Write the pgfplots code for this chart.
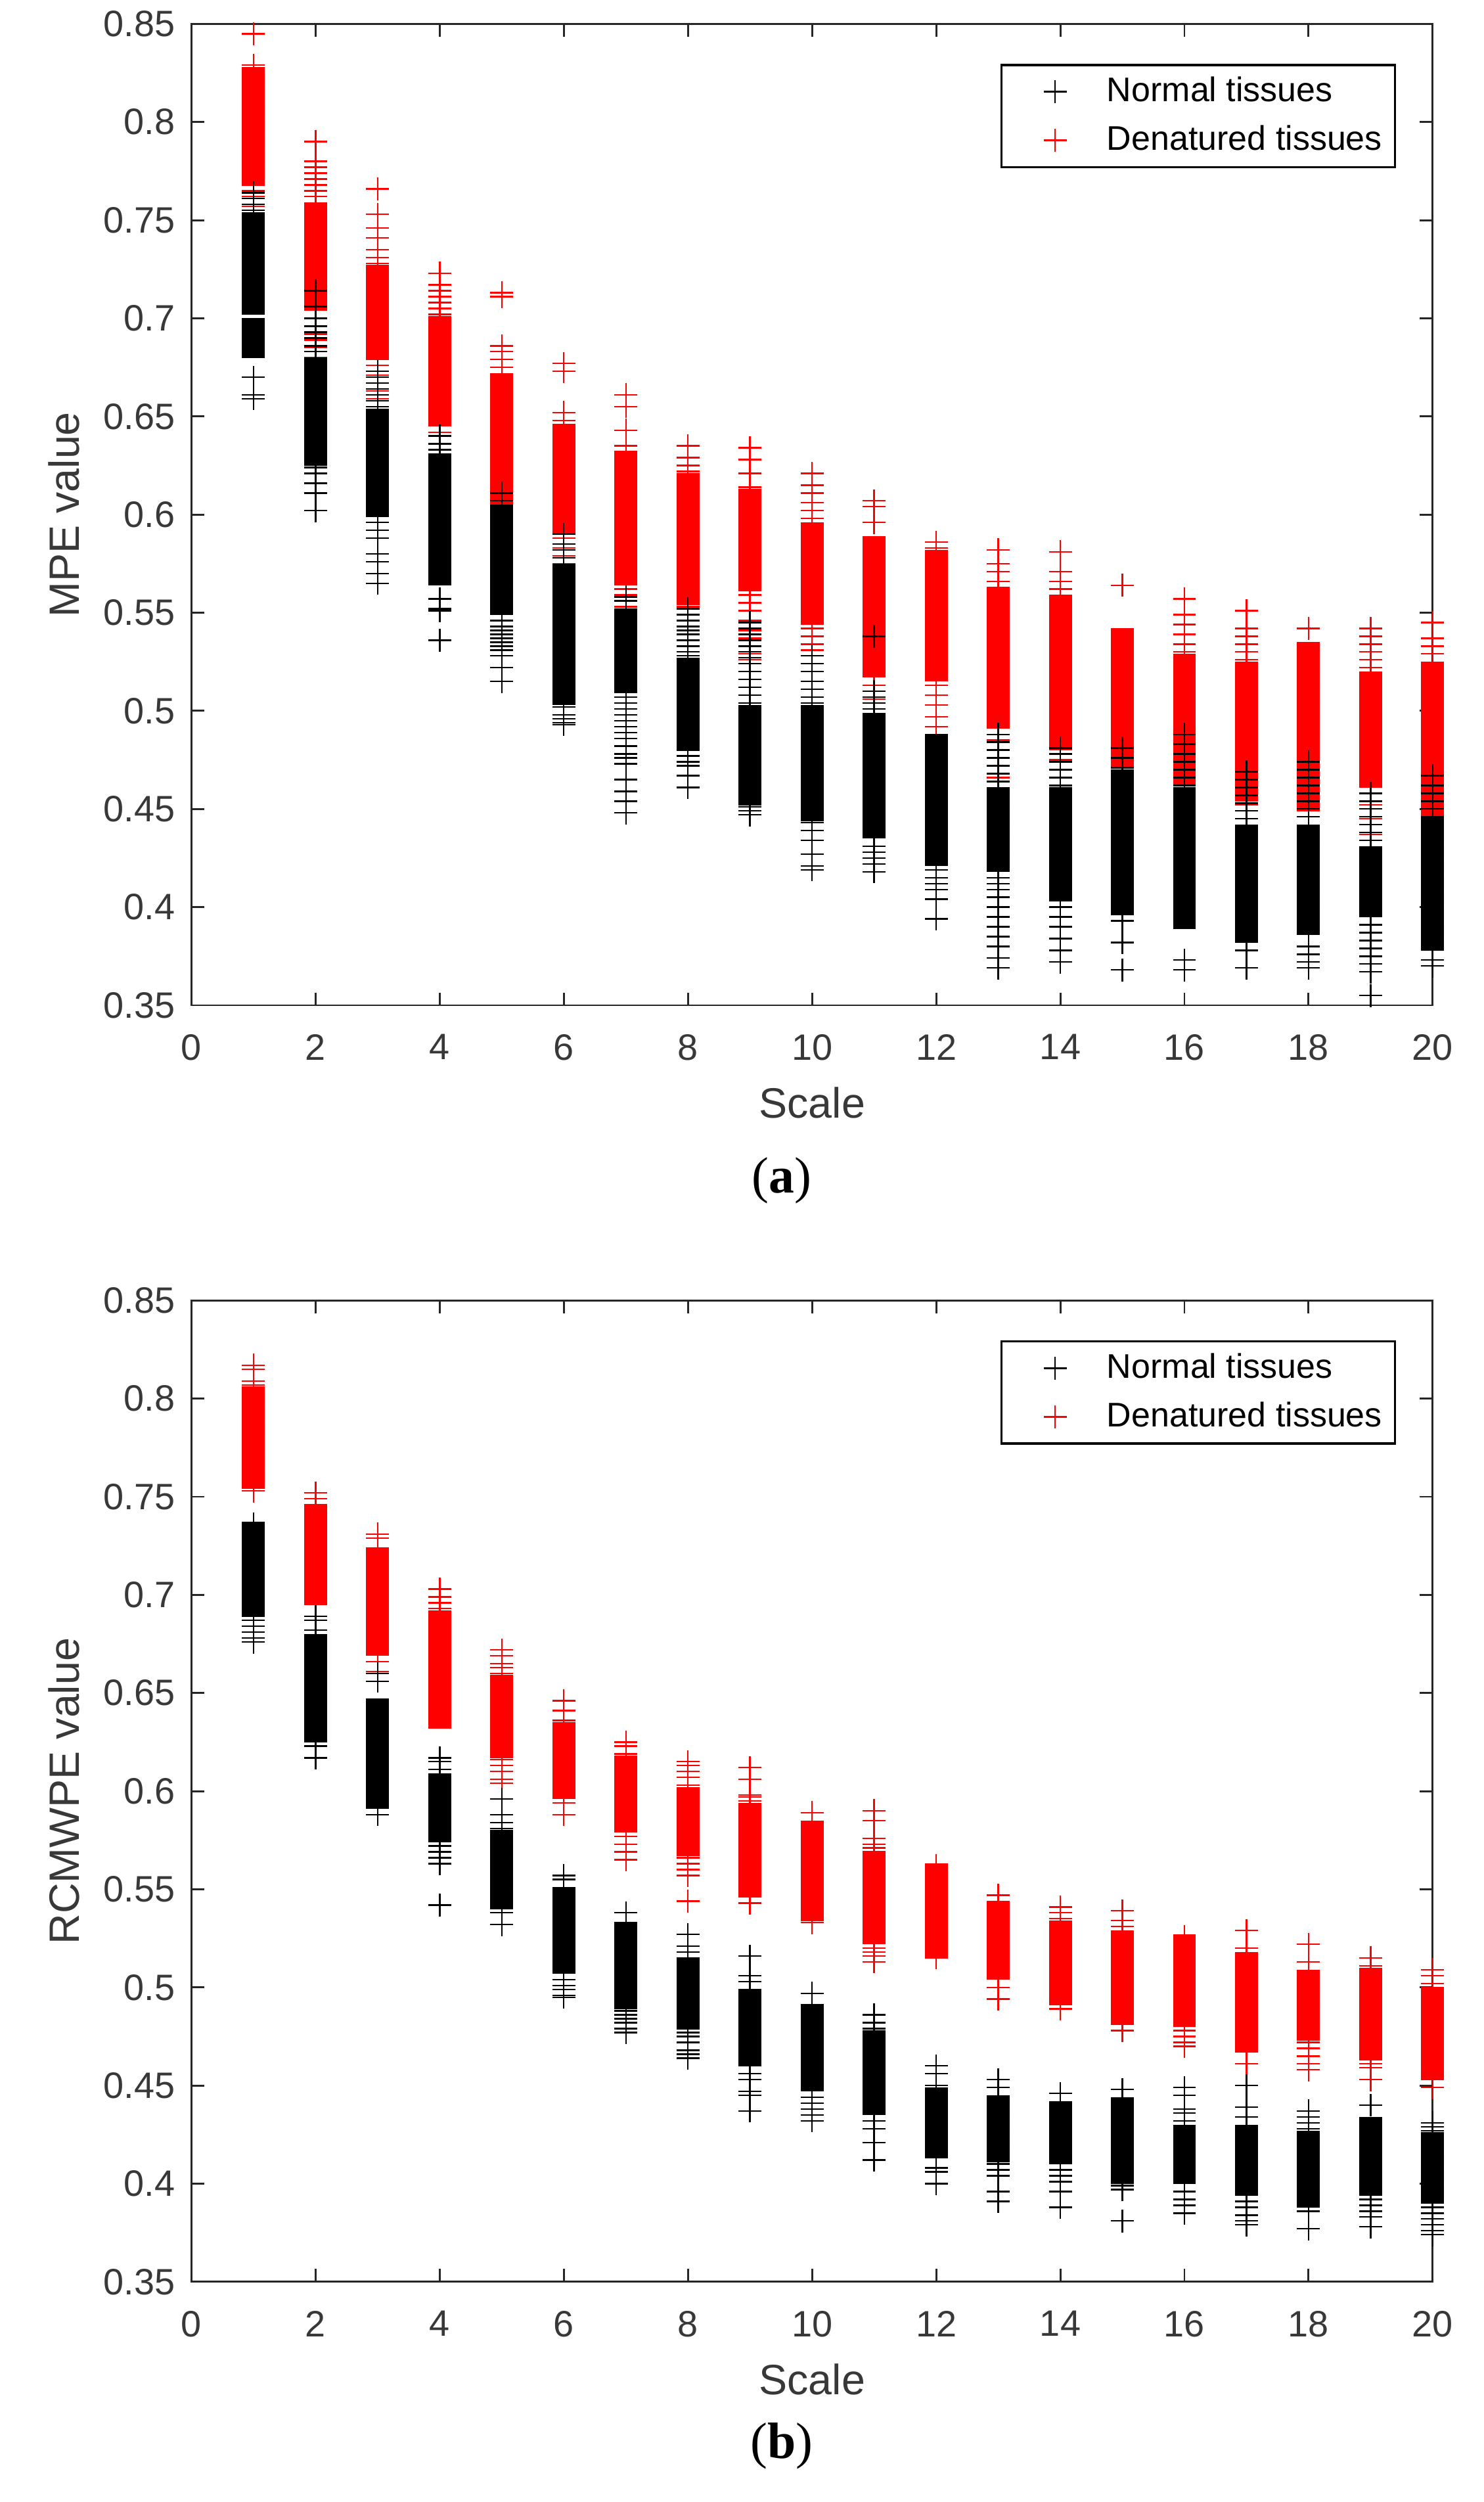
\documentclass[border=0pt]{standalone}
\usepackage{fontspec}
\setmainfont{Liberation Sans}
\newfontfamily\seriffont{Liberation Serif}
\usepackage{pgfplots}
\pgfplotsset{compat=1.18}
\definecolor{axcol}{gray}{0.15}
\definecolor{tkcol}{gray}{0.22}
\pgfplotsset{
  denS/.style={only marks, mark=+, color=red, mark size=3.6pt, mark options={line width=0.5pt}},
  nrmS/.style={only marks, mark=+, color=black, mark size=3.6pt, mark options={line width=0.5pt}},
  denB/.style={only marks, mark=-, color=red, mark size=3.6pt, mark options={line width=2.6pt}, forget plot},
  nrmB/.style={only marks, mark=-, color=black, mark size=3.6pt, mark options={line width=2.6pt}, forget plot},
  base/.style={
    scale only axis, width=389pt, height=307.5pt,
    xmin=0, xmax=20, ymin=0.35, ymax=0.85,
    xtick={0,2,4,6,8,10,12,14,16,18,20},
    ytick={0.35,0.4,0.45,0.5,0.55,0.6,0.65,0.7,0.75,0.8,0.85},
    yticklabels={0.35,0.4,0.45,0.5,0.55,0.6,0.65,0.7,0.75,0.8,0.85},
    tick align=inside, major tick length=4pt,
    axis line style={draw=axcol, line width=0.6pt},
    every tick/.style={draw=axcol, line width=0.6pt},
    /pgf/number format/assume math mode=true,
    tick label style={font=\fontsize{11.5}{13}\selectfont, text=tkcol, inner sep=0pt},
    xticklabel shift=8.9pt, yticklabel shift=5pt,
    label style={font=\fontsize{13.3}{15}\selectfont, text=tkcol},
    xlabel={Scale},
    xlabel style={at={(axis description cs:0.5,-0.0992)}, anchor=center},
    ylabel style={at={(axis description cs:-0.1028,0.5)}, anchor=center},
    clip=false,
    legend cell align=left,
    legend style={at={(rel axis cs:1,1)}, anchor=north east, xshift=-11.5pt, yshift=-12.5pt,
      draw=black, line width=0.7pt, font=\fontsize{10.7}{12}\selectfont,
      inner xsep=13.15pt, inner ysep=3.75pt, row sep=6pt, column sep=12.65pt, nodes={inner sep=0pt}},
  }
}
\begin{document}
\begin{tikzpicture}
\path[use as bounding box] (0,0) rectangle (465pt,784pt);
% ---------------- (a) MPE ----------------
\begin{axis}[base, at={(60pt,469pt)}, anchor=south west, ylabel={MPE value}]
\addlegendimage{nrmS}\addlegendentry{Normal tissues}
\addlegendimage{denS}\addlegendentry{Denatured tissues\hspace*{-9.15pt}}
\addplot[denB] coordinates {
(1,0.826)(1,0.822)(1,0.818)(1,0.814)(1,0.810)(1,0.806)(1,0.802)(1,0.798)(1,0.794)(1,0.790)(1,0.786)(1,0.782)(1,0.778)(1,0.774)(1,0.770)
(2,0.757)(2,0.753)(2,0.749)(2,0.745)(2,0.741)(2,0.737)(2,0.733)(2,0.729)(2,0.725)(2,0.721)(2,0.717)(2,0.713)(2,0.709)(2,0.706)
(3,0.725)(3,0.721)(3,0.717)(3,0.713)(3,0.709)(3,0.705)(3,0.701)(3,0.697)(3,0.693)(3,0.689)(3,0.685)(3,0.681)
(4,0.699)(4,0.695)(4,0.691)(4,0.687)(4,0.683)(4,0.679)(4,0.675)(4,0.671)(4,0.667)(4,0.663)(4,0.659)(4,0.655)(4,0.651)(4,0.647)
(5,0.670)(5,0.666)(5,0.662)(5,0.658)(5,0.654)(5,0.650)(5,0.646)(5,0.642)(5,0.638)(5,0.634)(5,0.630)(5,0.626)(5,0.622)(5,0.618)(5,0.614)(5,0.610)(5,0.606)
(6,0.644)(6,0.640)(6,0.636)(6,0.632)(6,0.628)(6,0.624)(6,0.620)(6,0.616)(6,0.612)(6,0.608)(6,0.604)(6,0.600)(6,0.596)(6,0.592)
(7,0.630)(7,0.626)(7,0.622)(7,0.618)(7,0.614)(7,0.610)(7,0.606)(7,0.602)(7,0.598)(7,0.594)(7,0.590)(7,0.586)(7,0.582)(7,0.578)(7,0.574)(7,0.570)(7,0.566)
(8,0.619)(8,0.615)(8,0.611)(8,0.607)(8,0.603)(8,0.599)(8,0.595)(8,0.591)(8,0.587)(8,0.583)(8,0.579)(8,0.575)(8,0.571)(8,0.567)(8,0.563)(8,0.559)(8,0.556)
(9,0.611)(9,0.607)(9,0.603)(9,0.599)(9,0.595)(9,0.591)(9,0.587)(9,0.583)(9,0.579)(9,0.575)(9,0.571)(9,0.567)(9,0.563)
(10,0.594)(10,0.590)(10,0.586)(10,0.582)(10,0.578)(10,0.574)(10,0.570)(10,0.566)(10,0.562)(10,0.558)(10,0.554)(10,0.550)(10,0.546)
(11,0.587)(11,0.583)(11,0.579)(11,0.575)(11,0.571)(11,0.567)(11,0.563)(11,0.559)(11,0.555)(11,0.551)(11,0.547)(11,0.543)(11,0.539)(11,0.535)(11,0.531)(11,0.527)(11,0.523)(11,0.519)
(12,0.580)(12,0.576)(12,0.572)(12,0.568)(12,0.564)(12,0.560)(12,0.556)(12,0.552)(12,0.548)(12,0.544)(12,0.540)(12,0.536)(12,0.532)(12,0.528)(12,0.524)(12,0.520)(12,0.517)
(13,0.561)(13,0.557)(13,0.553)(13,0.549)(13,0.545)(13,0.541)(13,0.537)(13,0.533)(13,0.529)(13,0.525)(13,0.521)(13,0.517)(13,0.513)(13,0.509)(13,0.505)(13,0.501)(13,0.497)(13,0.493)
(14,0.557)(14,0.553)(14,0.549)(14,0.545)(14,0.541)(14,0.537)(14,0.533)(14,0.529)(14,0.525)(14,0.521)(14,0.517)(14,0.513)(14,0.509)(14,0.505)(14,0.501)(14,0.497)(14,0.493)(14,0.489)(14,0.485)(14,0.482)
(15,0.540)(15,0.536)(15,0.532)(15,0.528)(15,0.524)(15,0.520)(15,0.516)(15,0.512)(15,0.508)(15,0.504)(15,0.500)(15,0.496)(15,0.492)(15,0.488)(15,0.484)(15,0.480)(15,0.476)(15,0.473)
(16,0.527)(16,0.523)(16,0.519)(16,0.515)(16,0.511)(16,0.507)(16,0.503)(16,0.499)(16,0.495)(16,0.491)(16,0.487)(16,0.483)(16,0.479)(16,0.475)(16,0.471)(16,0.467)(16,0.464)
(17,0.523)(17,0.519)(17,0.515)(17,0.511)(17,0.507)(17,0.503)(17,0.499)(17,0.495)(17,0.491)(17,0.487)(17,0.483)(17,0.479)(17,0.475)(17,0.471)(17,0.467)(17,0.463)(17,0.459)(17,0.456)
(18,0.533)(18,0.529)(18,0.525)(18,0.521)(18,0.517)(18,0.513)(18,0.509)(18,0.505)(18,0.501)(18,0.497)(18,0.493)(18,0.489)(18,0.485)(18,0.481)(18,0.477)(18,0.473)(18,0.469)(18,0.465)(18,0.461)(18,0.457)(18,0.453)(18,0.451)
(19,0.518)(19,0.514)(19,0.510)(19,0.506)(19,0.502)(19,0.498)(19,0.494)(19,0.490)(19,0.486)(19,0.482)(19,0.478)(19,0.474)(19,0.470)(19,0.466)(19,0.463)
(20,0.523)(20,0.519)(20,0.515)(20,0.511)(20,0.507)(20,0.503)(20,0.499)(20,0.495)(20,0.491)(20,0.487)(20,0.483)(20,0.479)(20,0.475)(20,0.471)(20,0.467)(20,0.463)(20,0.459)(20,0.455)(20,0.451)(20,0.447)(20,0.443)
};
\addplot[denS, forget plot] coordinates {
(1,0.845)(1,0.829)(1,0.768)(1,0.765)(1,0.762)(1,0.757)(1,0.752)(1,0.746)(1,0.740)(1,0.733)
(2,0.790)(2,0.780)(2,0.777)(2,0.774)(2,0.771)(2,0.768)(2,0.765)(2,0.762)(2,0.692)(2,0.689)(2,0.685)(2,0.680)(2,0.676)
(3,0.766)(3,0.753)(3,0.746)(3,0.741)(3,0.735)(3,0.731)(3,0.728)(3,0.676)(3,0.671)(3,0.667)(3,0.663)(3,0.659)(3,0.655)
(4,0.723)(4,0.717)(4,0.714)(4,0.711)(4,0.708)(4,0.705)(4,0.702)(4,0.642)
(5,0.713)(5,0.711)(5,0.686)(5,0.683)(5,0.679)(5,0.675)(5,0.587)
(6,0.677)(6,0.673)(6,0.652)(6,0.648)(6,0.588)(6,0.583)(6,0.579)(6,0.575)(6,0.570)
(7,0.661)(7,0.655)(7,0.643)(7,0.635)(7,0.632)(7,0.562)(7,0.559)(7,0.556)(7,0.553)
(8,0.635)(8,0.629)(8,0.625)(8,0.622)(8,0.553)(8,0.549)
(9,0.634)(9,0.628)(9,0.621)(9,0.614)(9,0.559)(9,0.555)(9,0.551)(9,0.546)(9,0.541)(9,0.537)(9,0.533)(9,0.529)(9,0.526)
(10,0.621)(10,0.615)(10,0.611)(10,0.606)(10,0.602)(10,0.598)(10,0.542)(10,0.538)(10,0.534)(10,0.531)
(11,0.607)(11,0.604)(11,0.596)(11,0.513)(11,0.510)(11,0.506)
(12,0.586)(12,0.583)(12,0.513)(12,0.508)(12,0.503)(12,0.497)(12,0.492)(12,0.488)
(13,0.582)(13,0.575)(13,0.571)(13,0.566)(13,0.485)(13,0.466)
(14,0.581)(14,0.571)(14,0.566)(14,0.562)(14,0.475)(14,0.470)
(15,0.564)(15,0.468)(15,0.463)
(16,0.557)(16,0.549)(16,0.544)(16,0.539)(16,0.534)(16,0.530)
(17,0.551)(17,0.542)(17,0.538)(17,0.534)(17,0.530)(17,0.526)(17,0.452)
(18,0.542)
(19,0.542)(19,0.538)(19,0.534)(19,0.530)(19,0.526)(19,0.522)(19,0.458)(19,0.452)(19,0.445)(19,0.437)
(20,0.545)(20,0.537)(20,0.533)(20,0.529)(20,0.436)(20,0.430)
};
\addplot[nrmB] coordinates {
(1,0.752)(1,0.748)(1,0.744)(1,0.740)(1,0.736)(1,0.732)(1,0.728)(1,0.724)(1,0.720)(1,0.716)(1,0.712)(1,0.708)(1,0.704)(1,0.698)(1,0.694)(1,0.690)(1,0.686)(1,0.682)
(2,0.678)(2,0.674)(2,0.670)(2,0.666)(2,0.662)(2,0.658)(2,0.654)(2,0.650)(2,0.646)(2,0.642)(2,0.638)(2,0.634)(2,0.630)(2,0.627)
(3,0.652)(3,0.648)(3,0.644)(3,0.640)(3,0.636)(3,0.632)(3,0.628)(3,0.624)(3,0.620)(3,0.616)(3,0.612)(3,0.608)(3,0.604)(3,0.601)
(4,0.629)(4,0.625)(4,0.621)(4,0.617)(4,0.613)(4,0.609)(4,0.605)(4,0.601)(4,0.597)(4,0.593)(4,0.589)(4,0.585)(4,0.581)(4,0.577)(4,0.573)(4,0.569)(4,0.566)
(5,0.603)(5,0.599)(5,0.595)(5,0.591)(5,0.587)(5,0.583)(5,0.579)(5,0.575)(5,0.571)(5,0.567)(5,0.563)(5,0.559)(5,0.555)(5,0.551)
(6,0.573)(6,0.569)(6,0.565)(6,0.561)(6,0.557)(6,0.553)(6,0.549)(6,0.545)(6,0.541)(6,0.537)(6,0.533)(6,0.529)(6,0.525)(6,0.521)(6,0.517)(6,0.513)(6,0.509)(6,0.505)
(7,0.550)(7,0.546)(7,0.542)(7,0.538)(7,0.534)(7,0.530)(7,0.526)(7,0.522)(7,0.518)(7,0.514)(7,0.511)
(8,0.525)(8,0.521)(8,0.517)(8,0.513)(8,0.509)(8,0.505)(8,0.501)(8,0.497)(8,0.493)(8,0.489)(8,0.485)(8,0.482)
(9,0.501)(9,0.497)(9,0.493)(9,0.489)(9,0.485)(9,0.481)(9,0.477)(9,0.473)(9,0.469)(9,0.465)(9,0.461)(9,0.457)(9,0.454)
(10,0.501)(10,0.497)(10,0.493)(10,0.489)(10,0.485)(10,0.481)(10,0.477)(10,0.473)(10,0.469)(10,0.465)(10,0.461)(10,0.457)(10,0.453)(10,0.449)(10,0.446)
(11,0.497)(11,0.493)(11,0.489)(11,0.485)(11,0.481)(11,0.477)(11,0.473)(11,0.469)(11,0.465)(11,0.461)(11,0.457)(11,0.453)(11,0.449)(11,0.445)(11,0.441)(11,0.437)
(12,0.486)(12,0.482)(12,0.478)(12,0.474)(12,0.470)(12,0.466)(12,0.462)(12,0.458)(12,0.454)(12,0.450)(12,0.446)(12,0.442)(12,0.438)(12,0.434)(12,0.430)(12,0.426)(12,0.423)
(13,0.459)(13,0.455)(13,0.451)(13,0.447)(13,0.443)(13,0.439)(13,0.435)(13,0.431)(13,0.427)(13,0.423)(13,0.420)
(14,0.459)(14,0.455)(14,0.451)(14,0.447)(14,0.443)(14,0.439)(14,0.435)(14,0.431)(14,0.427)(14,0.423)(14,0.419)(14,0.415)(14,0.411)(14,0.407)(14,0.405)
(15,0.468)(15,0.464)(15,0.460)(15,0.456)(15,0.452)(15,0.448)(15,0.444)(15,0.440)(15,0.436)(15,0.432)(15,0.428)(15,0.424)(15,0.420)(15,0.416)(15,0.412)(15,0.408)(15,0.404)(15,0.400)(15,0.398)
(16,0.459)(16,0.455)(16,0.451)(16,0.447)(16,0.443)(16,0.439)(16,0.435)(16,0.431)(16,0.427)(16,0.423)(16,0.419)(16,0.415)(16,0.411)(16,0.407)(16,0.403)(16,0.399)(16,0.395)(16,0.391)
(17,0.440)(17,0.436)(17,0.432)(17,0.428)(17,0.424)(17,0.420)(17,0.416)(17,0.412)(17,0.408)(17,0.404)(17,0.400)(17,0.396)(17,0.392)(17,0.388)(17,0.384)
(18,0.440)(18,0.436)(18,0.432)(18,0.428)(18,0.424)(18,0.420)(18,0.416)(18,0.412)(18,0.408)(18,0.404)(18,0.400)(18,0.396)(18,0.392)(18,0.388)
(19,0.429)(19,0.425)(19,0.421)(19,0.417)(19,0.413)(19,0.409)(19,0.405)(19,0.401)(19,0.397)
(20,0.444)(20,0.440)(20,0.436)(20,0.432)(20,0.428)(20,0.424)(20,0.420)(20,0.416)(20,0.412)(20,0.408)(20,0.404)(20,0.400)(20,0.396)(20,0.392)(20,0.388)(20,0.384)(20,0.380)
};
\addplot[nrmS, forget plot] coordinates {
(1,0.764)(1,0.761)(1,0.758)(1,0.755)(1,0.670)(1,0.661)(1,0.659)
(2,0.714)(2,0.706)(2,0.700)(2,0.696)(2,0.693)(2,0.690)(2,0.686)(2,0.683)(2,0.624)(2,0.621)(2,0.616)(2,0.611)(2,0.602)
(3,0.673)(3,0.670)(3,0.667)(3,0.664)(3,0.661)(3,0.658)(3,0.655)(3,0.596)(3,0.592)(3,0.588)(3,0.580)(3,0.576)(3,0.570)(3,0.565)
(4,0.640)(4,0.636)(4,0.633)(4,0.557)(4,0.552)(4,0.551)(4,0.536)
(5,0.611)(5,0.607)(5,0.546)(5,0.543)(5,0.541)(5,0.539)(5,0.537)(5,0.535)(5,0.533)(5,0.531)(5,0.528)(5,0.522)(5,0.515)
(6,0.590)(6,0.585)(6,0.582)(6,0.578)(6,0.502)(6,0.498)(6,0.496)(6,0.494)(6,0.493)
(7,0.558)(7,0.556)(7,0.507)(7,0.504)(7,0.501)(7,0.498)(7,0.495)(7,0.492)(7,0.489)(7,0.486)(7,0.482)(7,0.478)(7,0.476)(7,0.473)(7,0.465)(7,0.459)(7,0.454)(7,0.448)
(8,0.552)(8,0.549)(8,0.546)(8,0.543)(8,0.541)(8,0.539)(8,0.536)(8,0.533)(8,0.530)(8,0.528)(8,0.480)(8,0.477)(8,0.474)(8,0.472)(8,0.467)(8,0.461)
(9,0.545)(9,0.542)(9,0.539)(9,0.536)(9,0.533)(9,0.530)(9,0.527)(9,0.524)(9,0.520)(9,0.516)(9,0.512)(9,0.508)(9,0.504)(9,0.451)(9,0.449)(9,0.447)
(10,0.528)(10,0.524)(10,0.520)(10,0.515)(10,0.511)(10,0.507)(10,0.504)(10,0.443)(10,0.439)(10,0.434)(10,0.427)(10,0.421)(10,0.419)
(11,0.538)(11,0.510)(11,0.507)(11,0.504)(11,0.501)(11,0.431)(11,0.428)(11,0.425)(11,0.422)(11,0.418)
(12,0.419)(12,0.415)(12,0.412)(12,0.409)(12,0.404)(12,0.394)
(13,0.488)(13,0.484)(13,0.480)(13,0.476)(13,0.472)(13,0.468)(13,0.464)(13,0.415)(13,0.412)(13,0.409)(13,0.405)(13,0.400)(13,0.395)(13,0.390)(13,0.385)(13,0.380)(13,0.374)(13,0.369)
(14,0.481)(14,0.478)(14,0.474)(14,0.470)(14,0.466)(14,0.462)(14,0.400)(14,0.395)(14,0.390)(14,0.384)(14,0.378)(14,0.372)
(15,0.481)(15,0.476)(15,0.471)(15,0.393)(15,0.382)(15,0.368)
(16,0.488)(16,0.483)(16,0.478)(16,0.474)(16,0.470)(16,0.466)(16,0.462)(16,0.373)(16,0.368)
(17,0.469)(17,0.465)(17,0.461)(17,0.457)(17,0.453)(17,0.449)(17,0.445)(17,0.378)(17,0.369)
(18,0.474)(18,0.470)(18,0.466)(18,0.462)(18,0.458)(18,0.454)(18,0.450)(18,0.446)(18,0.380)(18,0.376)(18,0.372)(18,0.369)
(19,0.458)(19,0.454)(19,0.450)(19,0.446)(19,0.442)(19,0.438)(19,0.434)(19,0.391)(19,0.387)(19,0.383)(19,0.379)(19,0.375)(19,0.371)(19,0.367)(19,0.355)
(20,0.467)(20,0.462)(20,0.458)(20,0.454)(20,0.450)(20,0.446)(20,0.373)(20,0.370)
};
\end{axis}
\node[font={\seriffont\fontsize{16}{18}\selectfont}] at (245pt,414pt) {(\textbf{a})};
% ---------------- (b) RCMWPE ----------------
\begin{axis}[base, at={(60pt,69pt)}, anchor=south west, ylabel={RCMWPE value}]
\addlegendimage{nrmS}\addlegendentry{Normal tissues}
\addlegendimage{denS}\addlegendentry{Denatured tissues\hspace*{-9.15pt}}
\addplot[denB] coordinates {
(1,0.804)(1,0.800)(1,0.796)(1,0.792)(1,0.788)(1,0.784)(1,0.780)(1,0.776)(1,0.772)(1,0.768)(1,0.764)(1,0.760)(1,0.756)
(2,0.744)(2,0.740)(2,0.736)(2,0.732)(2,0.728)(2,0.724)(2,0.720)(2,0.716)(2,0.712)(2,0.708)(2,0.704)(2,0.700)(2,0.697)
(3,0.722)(3,0.718)(3,0.714)(3,0.710)(3,0.706)(3,0.702)(3,0.698)(3,0.694)(3,0.690)(3,0.686)(3,0.682)(3,0.678)(3,0.674)(3,0.671)
(4,0.690)(4,0.686)(4,0.682)(4,0.678)(4,0.674)(4,0.670)(4,0.666)(4,0.662)(4,0.658)(4,0.654)(4,0.650)(4,0.646)(4,0.642)(4,0.638)(4,0.634)
(5,0.657)(5,0.653)(5,0.649)(5,0.645)(5,0.641)(5,0.637)(5,0.633)(5,0.629)(5,0.625)(5,0.621)(5,0.619)
(6,0.633)(6,0.629)(6,0.625)(6,0.621)(6,0.617)(6,0.613)(6,0.609)(6,0.605)(6,0.601)(6,0.598)
(7,0.616)(7,0.612)(7,0.608)(7,0.604)(7,0.600)(7,0.596)(7,0.592)(7,0.588)(7,0.584)(7,0.581)
(8,0.600)(8,0.596)(8,0.592)(8,0.588)(8,0.584)(8,0.580)(8,0.576)(8,0.572)(8,0.569)
(9,0.592)(9,0.588)(9,0.584)(9,0.580)(9,0.576)(9,0.572)(9,0.568)(9,0.564)(9,0.560)(9,0.556)(9,0.552)(9,0.548)
(10,0.583)(10,0.579)(10,0.575)(10,0.571)(10,0.567)(10,0.563)(10,0.559)(10,0.555)(10,0.551)(10,0.547)(10,0.543)(10,0.539)(10,0.536)
(11,0.567)(11,0.563)(11,0.559)(11,0.555)(11,0.551)(11,0.547)(11,0.543)(11,0.539)(11,0.535)(11,0.531)(11,0.527)(11,0.524)
(12,0.561)(12,0.557)(12,0.553)(12,0.549)(12,0.545)(12,0.541)(12,0.537)(12,0.533)(12,0.529)(12,0.525)(12,0.521)(12,0.517)
(13,0.542)(13,0.538)(13,0.534)(13,0.530)(13,0.526)(13,0.522)(13,0.518)(13,0.514)(13,0.510)(13,0.506)
(14,0.532)(14,0.528)(14,0.524)(14,0.520)(14,0.516)(14,0.512)(14,0.508)(14,0.504)(14,0.500)(14,0.496)(14,0.493)
(15,0.527)(15,0.523)(15,0.519)(15,0.515)(15,0.511)(15,0.507)(15,0.503)(15,0.499)(15,0.495)(15,0.491)(15,0.487)(15,0.483)
(16,0.525)(16,0.521)(16,0.517)(16,0.513)(16,0.509)(16,0.505)(16,0.501)(16,0.497)(16,0.493)(16,0.489)(16,0.485)(16,0.482)
(17,0.516)(17,0.512)(17,0.508)(17,0.504)(17,0.500)(17,0.496)(17,0.492)(17,0.488)(17,0.484)(17,0.480)(17,0.476)(17,0.472)(17,0.469)
(18,0.507)(18,0.503)(18,0.499)(18,0.495)(18,0.491)(18,0.487)(18,0.483)(18,0.479)(18,0.475)
(19,0.508)(19,0.504)(19,0.500)(19,0.496)(19,0.492)(19,0.488)(19,0.484)(19,0.480)(19,0.476)(19,0.472)(19,0.468)(19,0.465)
(20,0.498)(20,0.494)(20,0.490)(20,0.486)(20,0.482)(20,0.478)(20,0.474)(20,0.470)(20,0.466)(20,0.462)(20,0.458)(20,0.455)
};
\addplot[denS, forget plot] coordinates {
(1,0.817)(1,0.815)(1,0.809)(1,0.807)(1,0.753)
(2,0.752)(2,0.749)(2,0.746)
(3,0.731)(3,0.729)(3,0.666)(3,0.661)
(4,0.703)(4,0.699)(4,0.696)(4,0.693)
(5,0.672)(5,0.669)(5,0.665)(5,0.663)(5,0.660)(5,0.616)(5,0.613)(5,0.610)(5,0.606)(5,0.604)
(6,0.646)(6,0.641)(6,0.636)(6,0.594)(6,0.588)
(7,0.625)(7,0.623)(7,0.619)(7,0.577)(7,0.573)(7,0.569)(7,0.565)
(8,0.615)(8,0.613)(8,0.610)(8,0.607)(8,0.603)(8,0.566)(8,0.563)(8,0.560)(8,0.557)(8,0.544)
(9,0.612)(9,0.606)(9,0.598)(9,0.597)(9,0.595)(9,0.543)
(10,0.589)(10,0.533)
(11,0.590)(11,0.585)(11,0.576)(11,0.573)(11,0.571)(11,0.569)(11,0.520)(11,0.518)(11,0.516)(11,0.513)
(12,0.562)(12,0.515)
(13,0.547)(13,0.543)(13,0.500)(13,0.494)
(14,0.541)(14,0.538)(14,0.535)(14,0.489)
(15,0.539)(15,0.534)(15,0.531)(15,0.478)
(16,0.526)(16,0.478)(16,0.475)(16,0.472)(16,0.470)
(17,0.529)(17,0.520)(17,0.461)
(18,0.522)(18,0.513)(18,0.472)(18,0.469)(18,0.465)(18,0.461)(18,0.458)
(19,0.515)(19,0.511)(19,0.461)(19,0.459)(19,0.453)
(20,0.509)(20,0.506)(20,0.502)(20,0.500)(20,0.449)
};
\addplot[nrmB] coordinates {
(1,0.735)(1,0.731)(1,0.727)(1,0.723)(1,0.719)(1,0.715)(1,0.711)(1,0.707)(1,0.703)(1,0.699)(1,0.695)(1,0.691)
(2,0.678)(2,0.674)(2,0.670)(2,0.666)(2,0.662)(2,0.658)(2,0.654)(2,0.650)(2,0.646)(2,0.642)(2,0.638)(2,0.634)(2,0.630)(2,0.627)
(3,0.645)(3,0.641)(3,0.637)(3,0.633)(3,0.629)(3,0.625)(3,0.621)(3,0.617)(3,0.613)(3,0.609)(3,0.605)(3,0.601)(3,0.597)(3,0.593)
(4,0.607)(4,0.603)(4,0.599)(4,0.595)(4,0.591)(4,0.587)(4,0.583)(4,0.579)(4,0.576)
(5,0.578)(5,0.574)(5,0.570)(5,0.566)(5,0.562)(5,0.558)(5,0.554)(5,0.550)(5,0.546)(5,0.542)
(6,0.549)(6,0.545)(6,0.541)(6,0.537)(6,0.533)(6,0.529)(6,0.525)(6,0.521)(6,0.517)(6,0.513)(6,0.509)
(7,0.531)(7,0.527)(7,0.523)(7,0.519)(7,0.515)(7,0.511)(7,0.507)(7,0.503)(7,0.499)(7,0.495)(7,0.491)
(8,0.513)(8,0.509)(8,0.505)(8,0.501)(8,0.497)(8,0.493)(8,0.489)(8,0.485)(8,0.481)
(9,0.497)(9,0.493)(9,0.489)(9,0.485)(9,0.481)(9,0.477)(9,0.473)(9,0.469)(9,0.465)(9,0.462)
(10,0.489)(10,0.485)(10,0.481)(10,0.477)(10,0.473)(10,0.469)(10,0.465)(10,0.461)(10,0.457)(10,0.453)(10,0.449)
(11,0.476)(11,0.472)(11,0.468)(11,0.464)(11,0.460)(11,0.456)(11,0.452)(11,0.448)(11,0.444)(11,0.440)(11,0.437)
(12,0.447)(12,0.443)(12,0.439)(12,0.435)(12,0.431)(12,0.427)(12,0.423)(12,0.419)(12,0.415)
(13,0.443)(13,0.439)(13,0.435)(13,0.431)(13,0.427)(13,0.423)(13,0.419)(13,0.415)(13,0.413)
(14,0.440)(14,0.436)(14,0.432)(14,0.428)(14,0.424)(14,0.420)(14,0.416)(14,0.412)
(15,0.442)(15,0.438)(15,0.434)(15,0.430)(15,0.426)(15,0.422)(15,0.418)(15,0.414)(15,0.410)(15,0.406)(15,0.402)
(16,0.428)(16,0.424)(16,0.420)(16,0.416)(16,0.412)(16,0.408)(16,0.404)(16,0.402)
(17,0.428)(17,0.424)(17,0.420)(17,0.416)(17,0.412)(17,0.408)(17,0.404)(17,0.400)(17,0.396)
(18,0.425)(18,0.421)(18,0.417)(18,0.413)(18,0.409)(18,0.405)(18,0.401)(18,0.397)(18,0.393)(18,0.390)
(19,0.432)(19,0.428)(19,0.424)(19,0.420)(19,0.416)(19,0.412)(19,0.408)(19,0.404)(19,0.400)(19,0.396)
(20,0.424)(20,0.420)(20,0.416)(20,0.412)(20,0.408)(20,0.404)(20,0.400)(20,0.396)(20,0.392)
};
\addplot[nrmS, forget plot] coordinates {
(1,0.736)(1,0.687)(1,0.684)(1,0.681)(1,0.678)(1,0.676)
(2,0.689)(2,0.687)(2,0.682)(2,0.623)(2,0.617)
(3,0.660)(3,0.656)(3,0.588)
(4,0.617)(4,0.615)(4,0.611)(4,0.572)(4,0.569)(4,0.566)(4,0.563)(4,0.542)
(5,0.596)(5,0.588)(5,0.584)(5,0.581)(5,0.538)(5,0.532)
(6,0.557)(6,0.555)(6,0.504)(6,0.501)(6,0.499)(6,0.496)(6,0.495)
(7,0.538)(7,0.533)(7,0.488)(7,0.486)(7,0.484)(7,0.482)(7,0.479)(7,0.477)
(8,0.527)(8,0.521)(8,0.518)(8,0.515)(8,0.479)(8,0.477)(8,0.475)(8,0.472)(8,0.468)(8,0.466)(8,0.464)
(9,0.516)(9,0.506)(9,0.503)(9,0.499)(9,0.456)(9,0.453)(9,0.447)(9,0.445)(9,0.437)
(10,0.497)(10,0.491)(10,0.444)(10,0.441)(10,0.438)(10,0.435)(10,0.432)
(11,0.486)(11,0.482)(11,0.479)(11,0.432)(11,0.428)(11,0.421)(11,0.412)
(12,0.460)(12,0.456)(12,0.450)(12,0.408)(12,0.406)(12,0.400)
(13,0.453)(13,0.449)(13,0.410)(13,0.407)(13,0.404)(13,0.396)(13,0.391)
(14,0.446)(14,0.407)(14,0.404)(14,0.401)(14,0.396)(14,0.388)
(15,0.448)(15,0.399)(15,0.397)(15,0.381)
(16,0.449)(16,0.445)(16,0.438)(16,0.436)(16,0.432)(16,0.396)(16,0.392)(16,0.389)(16,0.385)
(17,0.450)(17,0.439)(17,0.434)(17,0.391)(17,0.388)(17,0.384)(17,0.381)(17,0.379)
(18,0.437)(18,0.434)(18,0.431)(18,0.428)(18,0.386)(18,0.377)
(19,0.440)(19,0.392)(19,0.389)(19,0.386)(19,0.383)(19,0.378)
(20,0.431)(20,0.429)(20,0.427)(20,0.388)(20,0.385)(20,0.382)(20,0.379)(20,0.376)(20,0.374)
};
\end{axis}
\node[font={\seriffont\fontsize{16}{18}\selectfont}] at (245pt,17.5pt) {(\textbf{b})};
\end{tikzpicture}
\end{document}
